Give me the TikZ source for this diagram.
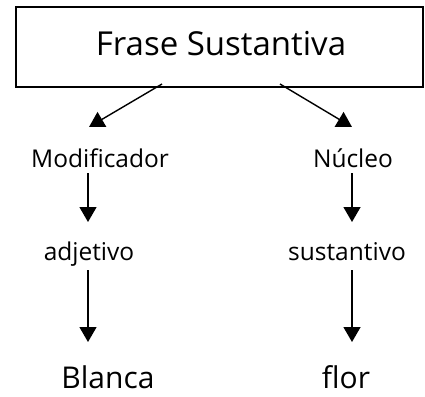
\documentclass[tikz,border=0pt]{standalone}
\usepackage{fontspec}
\setmainfont{Open Sans}
\usetikzlibrary{arrows.meta}
\begin{document}
\begin{tikzpicture}[x=1pt,y=-1pt,
  arr/.style={line width=1.4pt,-{Triangle[length=15pt,width=17pt]}},
  big/.style={font=\fontsize{33}{38}\selectfont, inner sep=0pt},
  mid/.style={font=\fontsize{24.5}{28}\selectfont, inner sep=0pt},
  lrg/.style={font=\fontsize{30}{34}\selectfont, inner sep=0pt}]
\useasboundingbox (0,0) rectangle (425,396);
\node[draw, line width=2pt, minimum width=407pt, minimum height=80pt, inner sep=0pt] (fs) at (219.5,47) {};
\node[big, anchor=base] (fst) at (221,56) {Frase Sustantiva};
\coordinate (s1) at (162,84);
\coordinate (s2) at (280,84);
\node[mid, anchor=base] (mod) at (100,167) {Modificador};
\node[mid, anchor=base] (nuc) at (353,167) {Núcleo};
\node[mid, anchor=base] (adj) at (89,260) {adjetivo};
\node[mid, anchor=base] (sus) at (347,260) {sustantivo};
\node[lrg, anchor=base] (bla) at (108,388) {Blanca};
\node[lrg, anchor=base] (flo) at (346,388) {flor};
\coordinate (t1) at (89,127);
\coordinate (t2) at (352,127);
\draw[arr] (s1) -- (t1);
\draw[arr] (s2) -- (t2);
\coordinate (a1) at (88,173);
\coordinate (a1e) at (88,222);
\coordinate (a2) at (352,173);
\coordinate (a2e) at (352,222);
\coordinate (b1) at (88,270);
\coordinate (b1e) at (88,342);
\coordinate (b2) at (352,270);
\coordinate (b2e) at (352,342);
\draw[arr] (a1) -- (a1e);
\draw[arr] (a2) -- (a2e);
\draw[arr] (b1) -- (b1e);
\draw[arr] (b2) -- (b2e);
\end{tikzpicture}
\end{document}
